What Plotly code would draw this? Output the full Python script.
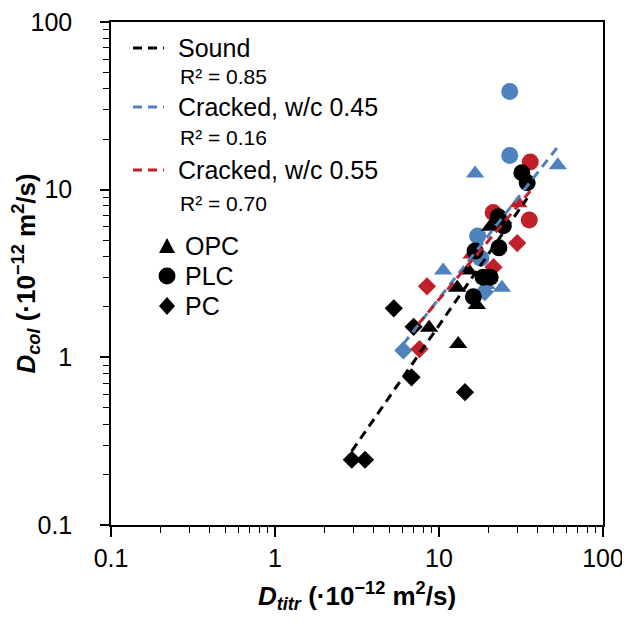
import plotly.graph_objects as go

# ---------------- data ----------------
sound_opc_x = [13.1, 8.7, 12.9, 15.1, 17.0, 20.5]
sound_opc_y = [1.2, 1.5, 2.6, 3.3, 2.05, 6.0]
sound_plc_x = [32.0, 34.5, 23.0, 24.7, 23.2, 20.5, 16.2, 16.6, 18.6]
sound_plc_y = [12.6, 11.0, 6.9, 6.1, 4.5, 3.0, 2.3, 4.3, 3.0]
sound_pc_x = [2.94, 3.54, 6.8, 14.4, 7.0, 5.3]
sound_pc_y = [0.245, 0.245, 0.76, 0.62, 1.52, 1.96]

c45_opc_x = [16.6, 53.0, 10.6, 24.2, 19.5]
c45_opc_y = [12.5, 14.0, 3.3, 2.6, 2.7]
c45_plc_x = [27.0, 27.0, 17.2, 18.0]
c45_plc_y = [38.5, 16.0, 5.3, 3.9]
c45_pc_x = [6.06, 19.0]
c45_pc_y = [1.1, 2.45]

c55_opc_x = [30.5, 15.8]
c55_opc_y = [8.3, 4.1]
c55_plc_x = [36.0, 35.5, 21.4]
c55_plc_y = [14.6, 6.6, 7.3]
c55_pc_x = [30.0, 8.45, 7.6, 21.5]
c55_pc_y = [4.8, 2.65, 1.12, 3.45]

# power-law trendline end points (straight on log-log axes)
sound_fit_x = [2.94, 34.5]
sound_fit_y = [0.276, 8.9]
c45_fit_x = [6.06, 53.0]
c45_fit_y = [1.2, 18.0]
c55_fit_x = [7.48, 36.0]
c55_fit_y = [1.58, 9.8]

series_names = ["Sound", "Cracked, w/c 0.45", "Cracked, w/c 0.55"]
r2_labels = ["R² = 0.85", "R² = 0.16", "R² = 0.70"]
binder_names = ["OPC", "PLC", "PC"]
x_ticks = [0.1, 1, 10, 100]

BLACK = "#000000"
BLUE = "#4F81BD"
RED = "#C0202A"

FONT = "Arial, Liberation Sans, sans-serif"

fig = go.Figure()

def add_markers(x, y, color, symbol, size):
    fig.add_trace(go.Scatter(x=x, y=y, mode="markers",
                             marker=dict(symbol=symbol, size=size, color=color,
                                         line=dict(width=0)),
                             showlegend=False, hoverinfo="x+y"))

sizes = {"triangle-up": 16, "circle": 17, "diamond": 14}
for color, sets in [
    (BLUE, [(c45_opc_x, c45_opc_y, "triangle-up"), (c45_plc_x, c45_plc_y, "circle"), (c45_pc_x, c45_pc_y, "diamond")]),
    (RED, [(c55_opc_x, c55_opc_y, "triangle-up"), (c55_plc_x, c55_plc_y, "circle"), (c55_pc_x, c55_pc_y, "diamond")]),
    (BLACK, [(sound_opc_x, sound_opc_y, "triangle-up"), (sound_plc_x, sound_plc_y, "circle"), (sound_pc_x, sound_pc_y, "diamond")]),
]:
    for x, y, sym in sets:
        add_markers(x, y, color, sym, sizes[sym])

for x, y, color in [(sound_fit_x, sound_fit_y, BLACK), (c45_fit_x, c45_fit_y, BLUE), (c55_fit_x, c55_fit_y, RED)]:
    fig.add_trace(go.Scatter(x=x, y=y, mode="lines",
                             line=dict(color=color, width=3, dash="9px,6px"),
                             showlegend=False, hoverinfo="skip"))

# ---------------- layout geometry (page has an 8px body margin) ----------------
OFF = 8
FW, FH = 622, 615
L, T, W, H = 103, 14, 492, 503

def px(xw):   # window pixel -> paper x
    return (xw - OFF - L) / W

def py(yw):   # window pixel -> paper y
    return (T + H - (yw - OFF)) / H

shapes = []
annotations = []
line_rows = [48, 107, 170]
r2_rows = [77, 138, 203]
colors = [BLACK, BLUE, RED]
for name, r2, yl, yr, c in zip(series_names, r2_labels, line_rows, r2_rows, colors):
    shapes.append(dict(type="line", xref="paper", yref="paper",
                       x0=px(133), x1=px(164), y0=py(yl), y1=py(yl),
                       line=dict(color=c, width=3, dash="9px,6px")))
    annotations.append(dict(xref="paper", yref="paper", x=px(176), y=py(yl),
                            xanchor="left", yanchor="middle", showarrow=False,
                            text=name, font=dict(family=FONT, size=25, color="#000")))
    annotations.append(dict(xref="paper", yref="paper", x=px(178), y=py(yr),
                            xanchor="left", yanchor="middle", showarrow=False,
                            text=r2, font=dict(family=FONT, size=21, color="#000")))

sym_rows = [246, 276, 306]
sym_paths = [
    "M-8,-7 L8,-7 L0,8 Z",      # triangle (y up)
    None,
    "M0,9 L8,0 L0,-9 L-8,0 Z",  # diamond
]
for name, yr, path in zip(binder_names, sym_rows, sym_paths):
    if path is None:
        shapes.append(dict(type="circle", xref="paper", yref="paper",
                           xsizemode="pixel", ysizemode="pixel",
                           xanchor=px(167), yanchor=py(yr),
                           x0=-8.5, x1=8.5, y0=-8.5, y1=8.5,
                           fillcolor=BLACK, line=dict(width=0)))
    else:
        shapes.append(dict(type="path", xref="paper", yref="paper",
                           xsizemode="pixel", ysizemode="pixel",
                           xanchor=px(167), yanchor=py(yr),
                           path=path, fillcolor=BLACK, line=dict(width=0)))
    annotations.append(dict(xref="paper", yref="paper", x=px(183), y=py(yr),
                            xanchor="left", yanchor="middle", showarrow=False,
                            text=name, font=dict(family=FONT, size=25, color="#000")))

axis_common = dict(type="log", showgrid=False, zeroline=False, automargin=False,
                   showline=True, linecolor="#000", linewidth=1.5, mirror=True,
                   ticks="outside", tickcolor="#000", tickwidth=1.5,
                   ticklabeloverflow="allow",
                   tickfont=dict(family=FONT, size=25, color="#000"),
                   tickvals=x_ticks, ticktext=["0.1", "1", "10", "100"],
                   range=[-1, 2],
                   minor=dict(ticks="outside", ticklen=6, tickwidth=1.2, tickcolor="#000",
                              tickvals=[m * 10 ** e for e in (-1, 0, 1) for m in range(2, 10)],
                              showgrid=False))

fig.update_xaxes(**axis_common, ticklen=10,
                 title=dict(text="<b><i>D</i><sub><i>titr</i></sub> (·10<sup>−12</sup> m<sup>2</sup>/s)</b>",
                            font=dict(family=FONT, size=26, color="#000"), standoff=16))
fig.update_yaxes(**axis_common, ticklen=9, ticklabelstandoff=23,
                 title=dict(text="<b><i>D</i><sub><i>col</i></sub> (·10<sup>−12</sup> m<sup>2</sup>/s)</b>",
                            font=dict(family=FONT, size=26, color="#000"), standoff=9))

fig.update_layout(width=FW, height=FH,
                  margin=dict(l=L, r=FW - L - W, t=T, b=FH - T - H, autoexpand=False),
                  paper_bgcolor="white", plot_bgcolor="white",
                  shapes=shapes, annotations=annotations, showlegend=False)

fig.write_html("out.html")
